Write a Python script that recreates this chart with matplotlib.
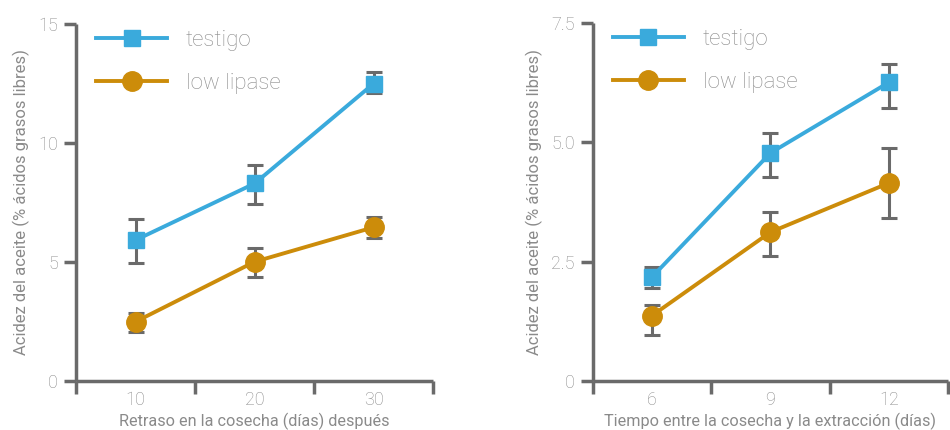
import matplotlib
matplotlib.use("Agg")
import matplotlib.pyplot as plt

# ---------------- Data ----------------
labels = ["testigo", "low lipase"]

# left panel: harvest delay (days)
left_x = [10, 20, 30]
left_testigo = [5.92, 8.30, 12.50]
left_testigo_lo = [4.94, 7.44, 12.09]
left_testigo_hi = [6.79, 9.08, 12.98]
left_low = [2.49, 5.01, 6.46]
left_low_lo = [2.07, 4.38, 6.00]
left_low_hi = [2.84, 5.60, 6.90]

# right panel: time between harvest and extraction (days)
right_x = [6, 9, 12]
right_testigo = [2.18, 4.78, 6.26]
right_testigo_lo = [1.95, 4.28, 5.72]
right_testigo_hi = [2.38, 5.20, 6.65]
right_low = [1.37, 3.12, 4.15]
right_low_lo = [0.96, 2.62, 3.42]
right_low_hi = [1.60, 3.54, 4.88]

BLUE = "#3aaadc"
GOLD = "#cc8c0a"
AXIS = "#6a6a6a"
TEXT = "#8a8a8a"

plt.rcParams["font.family"] = ["Roboto", "DejaVu Sans"]
plt.rcParams["font.weight"] = "light"


def draw_series(ax, x, y, lo, hi, color, marker, ms, label):
    yerr = [[v - l for v, l in zip(y, lo)], [h - v for v, h in zip(y, hi)]]
    ax.errorbar(x, y, yerr=yerr, fmt="none", ecolor=AXIS, elinewidth=2.2,
                capsize=6, capthick=2.2, zorder=2)
    ax.plot(x, y, color=color, lw=2.8, marker=marker, ms=ms, mfc=color,
            mec=color, label=label, zorder=3)


def style_axes(ax, xlim, xticks, xlabels, ylim, yticks, yticklabels, xlabel):
    ax.set_xlim(*xlim)
    ax.set_ylim(*ylim)
    for s in ["top", "right"]:
        ax.spines[s].set_visible(False)
    for s in ["left", "bottom"]:
        ax.spines[s].set_color(AXIS)
        ax.spines[s].set_linewidth(2.5)
        ax.spines[s].set_capstyle("butt")
    # tick marks without labels at the edges, labels in between without marks
    ax.set_xticks(xticks)
    ax.set_xticklabels([])
    ax.set_xticks(xlabels, minor=True)
    ax.set_xticklabels([str(v) for v in xlabels], minor=True)
    ax.tick_params(axis="x", which="major", direction="out", length=9,
                   width=2.5, color=AXIS)
    ax.tick_params(axis="x", which="minor", length=0, pad=7,
                   labelsize=13, labelcolor=TEXT)
    ax.set_yticks(yticks)
    ax.set_yticklabels(yticklabels)
    ax.tick_params(axis="y", direction="out", length=9, width=2.5, color=AXIS,
                   labelsize=13, labelcolor=TEXT, pad=4)
    ax.set_xlabel(xlabel, fontsize=11.7, color=TEXT, labelpad=3)
    ax.set_ylabel("Acidez del aceite (% ácidos grasos libres)", fontsize=12,
                  color=TEXT, labelpad=6)
    leg = ax.legend(loc="upper left", bbox_to_anchor=(0.0, 1.04), frameon=False,
                    handlelength=3.2, handletextpad=0.85, labelspacing=0.98,
                    fontsize=16)
    for t in leg.get_texts():
        t.set_color(TEXT)


fig = plt.figure(figsize=(9.5, 4.3), dpi=100)

ax1 = fig.add_axes([0.080, 0.114, 0.376, 0.830])
draw_series(ax1, left_x, left_testigo, left_testigo_lo, left_testigo_hi,
            BLUE, "s", 12, labels[0])
draw_series(ax1, left_x, left_low, left_low_lo, left_low_hi,
            GOLD, "o", 14, labels[1])
style_axes(ax1, (5, 35), [5, 15, 25, 35], left_x, (0, 15), [0, 5, 10, 15],
           ["0", "5", "10", "15"], "Retraso en la cosecha (días) después")

ax2 = fig.add_axes([0.624, 0.114, 0.374, 0.832])
draw_series(ax2, right_x, right_testigo, right_testigo_lo, right_testigo_hi,
            BLUE, "s", 12, labels[0])
draw_series(ax2, right_x, right_low, right_low_lo, right_low_hi,
            GOLD, "o", 14, labels[1])
style_axes(ax2, (4.5, 13.5), [4.5, 7.5, 10.5, 13.5], right_x, (0, 7.5),
           [0, 2.5, 5.0, 7.5], ["0", "2.5", "5.0", "7.5"],
           "Tiempo entre la cosecha y la extracción (días)")

fig.savefig("out.png", dpi=100)
